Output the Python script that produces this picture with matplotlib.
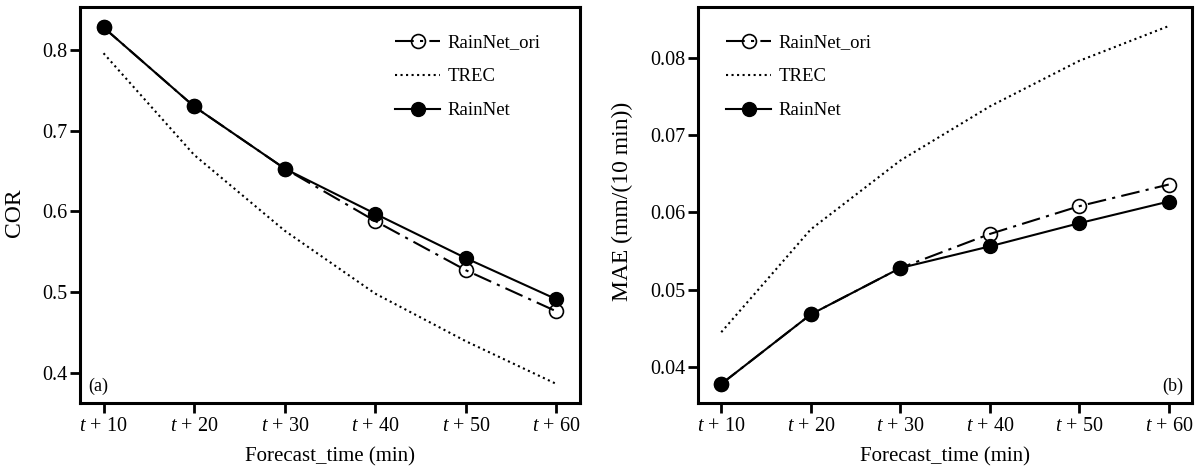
import numpy as np
import matplotlib
matplotlib.use('Agg')
import matplotlib.pyplot as plt

plt.rcParams['font.family'] = ['Liberation Serif', 'DejaVu Serif']
plt.rcParams['mathtext.fontset'] = 'custom'
plt.rcParams['mathtext.rm'] = 'Liberation Serif'
plt.rcParams['mathtext.it'] = 'Liberation Serif:italic'

# dados
steps = [1, 2, 3, 4, 5, 6]
tick_labels = ['$t$ + 10', '$t$ + 20', '$t$ + 30', '$t$ + 40', '$t$ + 50', '$t$ + 60']

cor_rainnet_ori = [0.828, 0.730, 0.653, 0.588, 0.527, 0.476]
cor_trec = [0.796, 0.670, 0.576, 0.498, 0.439, 0.386]
cor_rainnet = [0.828, 0.730, 0.653, 0.597, 0.542, 0.491]

mae_rainnet_ori = [0.0378, 0.0468, 0.0528, 0.0572, 0.0608, 0.0636]
mae_trec = [0.0445, 0.0578, 0.0667, 0.0737, 0.0796, 0.0841]
mae_rainnet = [0.0378, 0.0468, 0.0528, 0.0556, 0.0586, 0.0614]

fig = plt.figure(figsize=(12.02, 4.69), dpi=100)
ax1 = fig.add_axes([80/1202, 66.3/469, 500/1202, 395.2/469])
ax2 = fig.add_axes([698/1202, 66.3/469, 494/1202, 395.2/469])


def draw(ax, ori, trec, rn):
    ax.plot(steps, ori, color='black', lw=1.5, dashes=(9, 3, 1.5, 3),
            marker='o', ms=10, mfc='none', mec='black', mew=1.2, label='RainNet_ori')
    ax.plot(steps, trec, color='black', lw=1.5, ls=':', label='TREC')
    ax.plot(steps, rn, color='black', lw=1.5, marker='o', ms=10,
            mfc='black', mec='black', label='RainNet')
    ax.set_xticks(steps)
    ax.set_xticklabels(tick_labels)
    ax.set_xlim(0.74, 6.26)
    ax.set_xlabel('Forecast_time (min)', fontsize=15)
    ax.xaxis.set_label_coords(0.5, -0.112)
    ax.tick_params(labelsize=14.5, direction='out', length=7, width=2)
    ax.tick_params(axis='y', pad=2)
    ax.tick_params(axis='x', pad=3)
    for s in ax.spines.values():
        s.set_linewidth(2.2)


draw(ax1, cor_rainnet_ori, cor_trec, cor_rainnet)
ax1.set_ylim(0.3628, 0.8527)
ax1.set_yticks([0.4, 0.5, 0.6, 0.7, 0.8])
ax1.set_ylabel('COR', fontsize=17)
ax1.yaxis.set_label_coords(-0.11, 0.48)
ax1.legend(loc='upper left', frameon=False, fontsize=13.5, handlelength=2.4,
           handletextpad=0.4, borderpad=0, borderaxespad=0,
           bbox_to_anchor=(0.63, 0.932), labelspacing=0.9)
ax1.text(0.016, 0.042, '(a)', transform=ax1.transAxes, fontsize=13, va='center')

draw(ax2, mae_rainnet_ori, mae_trec, mae_rainnet)
ax2.set_ylim(0.03538, 0.0865)
ax2.set_yticks([0.04, 0.05, 0.06, 0.07, 0.08])
ax2.set_ylabel('MAE (mm/(10 min))', fontsize=17)
ax2.yaxis.set_label_coords(-0.132, 0.51)
ax2.legend(loc='upper left', frameon=False, fontsize=13.5, handlelength=2.4,
           handletextpad=0.4, borderpad=0, borderaxespad=0,
           bbox_to_anchor=(0.057, 0.932), labelspacing=0.9)
ax2.text(0.982, 0.042, '(b)', transform=ax2.transAxes, fontsize=13,
         ha='right', va='center')

fig.savefig('out.png', dpi=100)
